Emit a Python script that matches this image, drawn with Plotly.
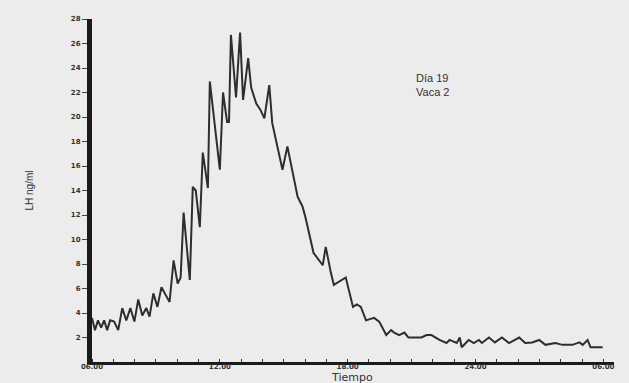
import plotly.graph_objects as go

# Time in hours after 06.00 and LH concentration (ng/ml)
hours = [0.00, 0.14, 0.28, 0.43, 0.57, 0.71, 0.85, 1.04, 1.23, 1.42, 1.61, 1.80, 1.99, 2.17,
         2.36, 2.55, 2.70, 2.88, 3.07, 3.26, 3.45, 3.64, 3.83, 4.02, 4.16, 4.30, 4.59, 4.73,
         4.87, 5.06, 5.20, 5.44, 5.53, 6.00, 6.15, 6.34, 6.43, 6.52, 6.76, 6.95, 7.09, 7.33,
         7.47, 7.71, 7.90, 8.09, 8.32, 8.46, 8.94, 9.17, 9.65, 9.88, 10.02, 10.40, 10.83,
         10.97, 11.21, 11.35, 11.91, 12.25, 12.43, 12.62, 12.86, 13.24, 13.48, 13.81, 14.04,
         14.18, 14.42, 14.66, 14.85, 15.13, 15.46, 15.70, 15.93, 16.31, 16.64, 16.78, 17.12,
         17.26, 17.35, 17.68, 17.92, 18.16, 18.30, 18.63, 18.91, 19.24, 19.57, 20.05, 20.33,
         20.66, 20.99, 21.28, 21.75, 22.08, 22.55, 22.88, 23.03, 23.26, 23.40, 23.97]
lh = [3.6, 2.6, 3.4, 2.8, 3.4, 2.6, 3.4, 3.3, 2.6, 4.4, 3.4, 4.4, 3.3, 5.1,
      3.8, 4.4, 3.7, 5.6, 4.5, 6.1, 5.5, 4.9, 8.3, 6.4, 6.9, 12.2, 6.7, 14.3,
      14.0, 11.0, 17.1, 14.2, 22.9, 15.7, 22.0, 19.6, 19.6, 26.7, 21.6, 26.9, 21.4, 24.8,
      22.4, 21.1, 20.6, 19.9, 22.6, 19.5, 15.7, 17.6, 13.5, 12.7, 11.8, 8.9, 7.9,
      9.4, 7.3, 6.3, 6.9, 4.5, 4.7, 4.5, 3.4, 3.6, 3.3, 2.2, 2.6,
      2.4, 2.2, 2.4, 2.0, 2.0, 2.0, 2.2, 2.2, 1.8, 1.55, 1.8, 1.55,
      2.0, 1.2, 1.8, 1.55, 1.8, 1.55, 2.0, 1.6, 2.0, 1.55, 2.0, 1.55,
      1.6, 1.8, 1.4, 1.55, 1.4, 1.4, 1.6, 1.4, 1.8, 1.2, 1.2]

x_tickvals = [0, 6, 12, 18, 24]
x_ticktext = ["06.00", "12.00", "18.00", "24.00", "06.00"]
y_tickvals = list(range(2, 29, 2))
y_ticktext = [str(v) for v in y_tickvals]

fig = go.Figure()
fig.add_trace(go.Scatter(x=hours, y=lh, mode="lines",
                         line=dict(color="#2e2e2e", width=2), showlegend=False,
                         hoverinfo="skip"))

tick_font = dict(family="DejaVu Sans", size=7, color="#333333", weight="bold")

fig.update_xaxes(range=[0, 24.5], showgrid=False, zeroline=False, automargin=False,
                 showline=True, linecolor="#1a1a1a", linewidth=3,
                 tickvals=x_tickvals, ticktext=x_ticktext, tickfont=tick_font,
                 ticks="", ticklabelstandoff=-4,
                 minor=dict(dtick=1, tick0=0, ticks="inside", ticklen=3,
                            tickcolor="#333", tickwidth=1))
fig.update_yaxes(range=[0, 28], showgrid=False, zeroline=False, automargin=False,
                 showline=True, linecolor="#1a1a1a", linewidth=5,
                 tickvals=y_tickvals, ticktext=y_ticktext, tickfont=tick_font,
                 ticks="outside", ticklen=5, tickcolor="#444", tickwidth=1,
                 title=dict(text="LH ng/ml", font=dict(family="Liberation Sans Narrow, Liberation Sans", size=10, color="#333"),
                            standoff=37))

fig.add_annotation(xref="x", yref="paper", x=12.2, y=0, yshift=-23, xanchor="center", yanchor="bottom",
                   text="Tiempo", showarrow=False, borderpad=0,
                   font=dict(family="DejaVu Sans", size=11, color="#333"))

fig.add_annotation(xref="x", yref="y", x=15.1, y=22.6, xanchor="left", yanchor="middle",
                   text="Día 19<br>Vaca 2", showarrow=False, align="left",
                   font=dict(family="Liberation Sans", size=11, color="#333"))

fig.update_layout(width=629, height=383,
                  margin=dict(l=92, r=15, t=19, b=21, autoexpand=False),
                  paper_bgcolor="#ececec", plot_bgcolor="#ececec")

fig.write_html("out.html", config={"displayModeBar": False},
               post_script="document.body.style.margin='0';document.body.style.overflow='hidden';document.body.style.background='#ececec';")
